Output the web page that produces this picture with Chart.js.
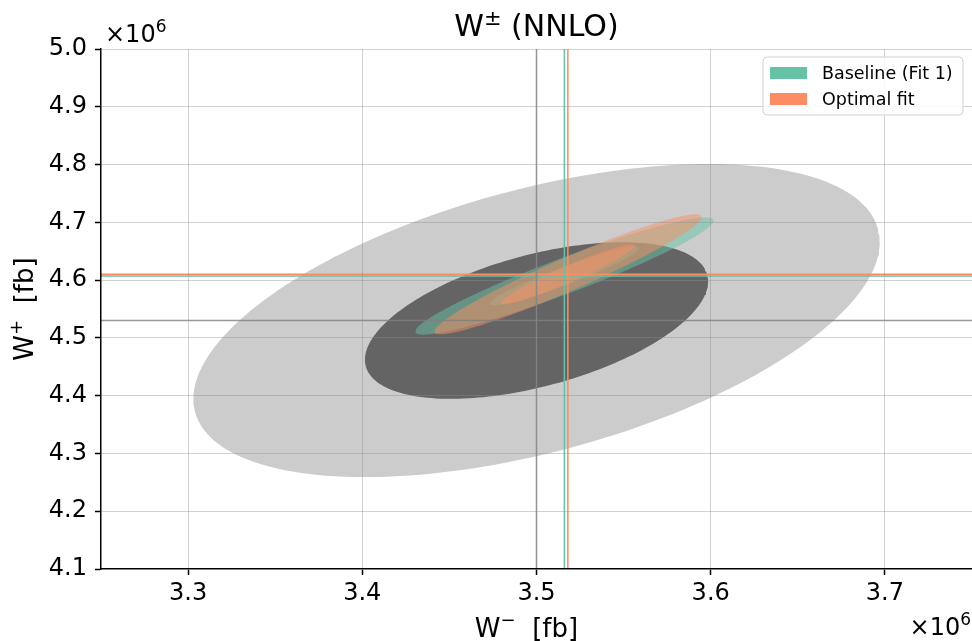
<!DOCTYPE html>
<html>
<head>
<meta charset="utf-8">
<script src="https://cdn.jsdelivr.net/npm/chart.js@4.4.0/dist/chart.umd.min.js"></script>
<style>
  html, body { margin: 0; padding: 0; background: #fff; overflow: hidden; }
  #wrap { width: 972px; height: 641px; }
</style>
</head>
<body>
<div id="wrap"><canvas id="chart_w_nnlo" width="972" height="641"></canvas></div>
<script>
// W- / W+ cross sections in fb; ellipses given by 1-sigma widths + correlation
const ell_names = ['Reference', 'Baseline (Fit 1)', 'Optimal fit'];
const ell_cx = [3.500e6, 3.516e6, 3.518e6];
const ell_cy = [4.530e6, 4.607e6, 4.610e6];
const ell_sx = [0.0985e6, 0.0428e6, 0.0383e6];
const ell_sy = [0.1355e6, 0.0507e6, 0.0519e6];
const ell_rho = [0.50, 0.946, 0.954];

const x_ticks = [3.3, 3.4, 3.5, 3.6, 3.7];
const y_ticks = [4.1, 4.2, 4.3, 4.4, 4.5, 4.6, 4.7, 4.8, 4.9, 5.0];
const x_range = [3.25e6, 3.75e6];
const y_range = [4.1e6, 5.0e6];

const col_green = '#66c2a5';
const col_orange = '#fc8d62';
const FONT = '"DejaVu Sans", "Liberation Sans", sans-serif';

Chart.defaults.font.family = FONT;
Chart.defaults.color = '#000';

// outline of the n-sigma contour
const _f_ellipse = function (i, nsig) {
  let pts = [];
  let s = Math.sqrt(1 - ell_rho[i] * ell_rho[i]);
  for (let k = 0; k <= 200; k++) {
    let t = 2 * Math.PI * k / 200;
    pts.push({
      x: ell_cx[i] + nsig * ell_sx[i] * Math.cos(t),
      y: ell_cy[i] + nsig * ell_sy[i] * (ell_rho[i] * Math.cos(t) + s * Math.sin(t))
    });
  }
  return pts;
};

const _f_area = function (i, nsig, color, order) {
  return {
    label: ell_names[i] + ' ' + nsig + 'σ',
    data: _f_ellipse(i, nsig),
    showLine: true,
    fill: 'shape',
    backgroundColor: color,
    borderWidth: 0,
    pointRadius: 0,
    tension: 0,
    order: order
  };
};

const _f_vline = function (x, color) {
  return {
    label: 'v', data: [{ x: x, y: y_range[0] }, { x: x, y: y_range[1] }],
    showLine: true, borderColor: color, borderWidth: 1.5, pointRadius: 0, order: 0
  };
};
const _f_hline = function (y, color) {
  return {
    label: 'h', data: [{ x: x_range[0], y: y }, { x: x_range[1], y: y }],
    showLine: true, borderColor: color, borderWidth: 1.5, pointRadius: 0, order: 0
  };
};

const line_cols = ['rgba(128,128,128,0.8)', col_green, col_orange];

let datasets = [
  _f_area(0, 2, '#cccccc', 6),
  _f_area(0, 1, '#646464', 5),
  _f_area(1, 2, 'rgba(102,194,165,0.5)', 4),
  _f_area(1, 1, 'rgba(102,194,165,0.5)', 3),
  _f_area(2, 2, 'rgba(252,141,98,0.5)', 2),
  _f_area(2, 1, 'rgba(252,141,98,0.5)', 1)
];
ell_cx.forEach((x, i) => datasets.push(_f_vline(x, line_cols[i])));
ell_cy.forEach((y, i) => datasets.push(_f_hline(y, line_cols[i])));

// draws [text, size, raise] runs one after another, centred or aligned on x
const _f_runs = function (ctx, runs, x, y, align) {
  let total = 0;
  runs.forEach(r => { ctx.font = `${r[1]}px ${FONT}`; r.w = ctx.measureText(r[0]).width; total += r.w; });
  let xx = align === 'center' ? x - total / 2 : (align === 'right' ? x - total : x);
  ctx.textAlign = 'left';
  runs.forEach(r => {
    ctx.font = `${r[1]}px ${FONT}`;
    ctx.fillText(r[0], xx, y - r[2]);
    xx += r.w;
  });
};

// title, axis labels, x10^6 offset labels and the framed legend
const decor_plugin = {
  id: 'decor_plugin',
  afterDraw(chart) {
    const ctx = chart.ctx, a = chart.chartArea;
    ctx.save();
    ctx.fillStyle = '#000';
    ctx.textBaseline = 'alphabetic';

    _f_runs(ctx, [['W', 30, 0], ['±', 21, 11], [' (NNLO)', 30, 0]], (a.left + a.right) / 2, 36, 'center');

    _f_runs(ctx, [['W', 26, 0], ['−', 18, 11], ['  [fb]', 26, 0]], (a.left + a.right) / 2 - 10, 637, 'center');

    ctx.save();
    ctx.translate(33, (a.top + a.bottom) / 2);
    ctx.rotate(-Math.PI / 2);
    _f_runs(ctx, [['W', 26, 0], ['+', 18, 11], ['  [fb]', 26, 0]], 0, 0, 'center');
    ctx.restore();

    _f_runs(ctx, [['×10', 24, 0], ['6', 17, 10]], a.left + 4, a.top - 7, 'left');
    _f_runs(ctx, [['×10', 24, 0], ['6', 17, 10]], a.right - 1, 635, 'right');

    // legend
    let lx = a.right - 209, ly = a.top + 8, lw = 200, lh = 58;
    ctx.beginPath();
    ctx.roundRect(lx, ly, lw, lh, 4);
    ctx.fillStyle = 'rgba(255,255,255,0.85)';
    ctx.fill();
    ctx.strokeStyle = '#d0d0d0';
    ctx.lineWidth = 1;
    ctx.stroke();
    const items = [[ell_names[1], col_green], [ell_names[2], col_orange]];
    ctx.font = `17.5px ${FONT}`;
    ctx.textAlign = 'left';
    ctx.textBaseline = 'middle';
    items.forEach((it, i) => {
      let yy = ly + 16 + i * 26;
      ctx.fillStyle = it[1];
      ctx.fillRect(lx + 7, yy - 6, 37, 12);
      ctx.fillStyle = '#000';
      ctx.fillText(it[0], lx + 59, yy + 1);
    });
    ctx.restore();
  }
};

const grid_opts = {
  color: 'rgba(140,140,140,0.4)',
  lineWidth: 1,
  z: 1,
  drawTicks: true,
  tickLength: 6,
  tickWidth: 1.5,
  tickColor: '#000'
};

let ctx = document.getElementById('chart_w_nnlo').getContext('2d');
let chartjs = new Chart(ctx, {
  type: 'scatter',
  data: { datasets: datasets },
  plugins: [decor_plugin],
  options: {
    responsive: false,
    devicePixelRatio: 1,
    animation: false,
    events: [],
    layout: { padding: { top: 49, right: 0, left: 0, bottom: 0 } },
    scales: {
      x: {
        type: 'linear',
        min: x_range[0],
        max: x_range[1],
        grid: grid_opts,
        border: { color: '#000', width: 1.5, z: 1 },
        afterBuildTicks: (scale) => { scale.ticks = x_ticks.map(v => ({ value: v * 1e6 })); },
        afterFit: (scale) => { scale.height = 72; },
        ticks: {
          font: { size: 24 },
          padding: 4,
          maxRotation: 0,
          callback: (v) => (v / 1e6).toFixed(1)
        }
      },
      y: {
        type: 'linear',
        min: y_range[0],
        max: y_range[1],
        grid: grid_opts,
        border: { color: '#000', width: 1.5, z: 1 },
        afterBuildTicks: (scale) => { scale.ticks = y_ticks.map(v => ({ value: v * 1e6 })); },
        afterFit: (scale) => { scale.width = 101; },
        ticks: {
          font: { size: 24 },
          padding: 8,
          callback: (v) => (v / 1e6).toFixed(1)
        }
      }
    },
    plugins: {
      legend: { display: false },
      title: { display: false },
      tooltip: { enabled: false }
    }
  }
});
</script>
</body>
</html>
